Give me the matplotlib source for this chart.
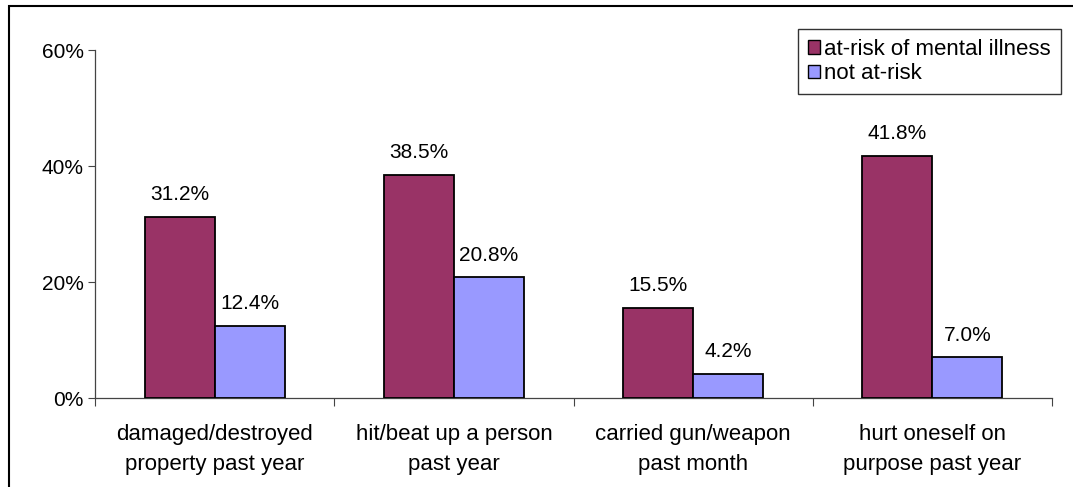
import numpy as np
import matplotlib
matplotlib.use("Agg")
import matplotlib.pyplot as plt
from matplotlib.patches import Rectangle
from matplotlib.ticker import FixedLocator, PercentFormatter

plt.rcParams['font.family'] = ['Liberation Sans', 'DejaVu Sans']

categories = ["damaged/destroyed\nproperty past year",
              "hit/beat up a person\npast year",
              "carried gun/weapon\npast month",
              "hurt oneself on\npurpose past year"]
at_risk = [31.2, 38.5, 15.5, 41.8]
not_at_risk = [12.4, 20.8, 4.2, 7.0]
series_names = ["at-risk of mental illness", "not at-risk"]
colors = ["#993366", "#9999FF"]

W, H = 1073, 487
fig = plt.figure(figsize=(W / 100, H / 100), dpi=100)
ax = fig.add_axes([95 / W, 1 - 398 / H, (1052 - 95) / W, (398 - 50) / H])

x = np.arange(len(categories))
bw = 0.293
b1 = ax.bar(x - bw / 2, at_risk, bw, color=colors[0], edgecolor="black", linewidth=1.3,
            label=series_names[0], zorder=3)
b2 = ax.bar(x + bw / 2, not_at_risk, bw, color=colors[1], edgecolor="black", linewidth=1.3,
            label=series_names[1], zorder=3)

for bars, vals in ((b1, at_risk), (b2, not_at_risk)):
    for rect, v in zip(bars, vals):
        ax.annotate(f"{v:.1f}%", (rect.get_x() + rect.get_width() / 2, v),
                    xytext=(0, 12), textcoords="offset points",
                    ha="center", va="baseline", fontsize=15)

ax.set_xlim(-0.5, len(categories) - 0.5)
ax.set_ylim(0, 60)
ax.set_yticks([0, 20, 40, 60])
ax.yaxis.set_major_formatter(PercentFormatter(decimals=0))
ax.tick_params(axis="y", length=5, width=0.8, labelsize=15, pad=3, color="#444444")

# category labels centred, tick marks on the boundaries
ax.set_xticks(x)
ax.set_xticklabels(categories, fontsize=16, linespacing=1.55)
ax.tick_params(axis="x", which="major", length=0, pad=19)
ax.xaxis.set_minor_locator(FixedLocator(np.arange(-0.5, len(categories), 1.0)))
ax.tick_params(axis="x", which="minor", length=6, width=0.8, color="#444444")

for side in ("top", "right"):
    ax.spines[side].set_visible(False)
for side in ("left", "bottom"):
    ax.spines[side].set_color("#444444")
    ax.spines[side].set_linewidth(0.9)

leg = ax.legend(loc="upper right", bbox_to_anchor=(1061 / W, 1 - 29 / H),
                bbox_transform=fig.transFigure, borderaxespad=0,
                fontsize=16, handlelength=0.55, handleheight=0.55, handletextpad=0.2,
                labelspacing=0.15, borderpad=0.45, fancybox=False, frameon=True)
leg.get_frame().set_edgecolor("black")
leg.get_frame().set_linewidth(1.0)
for h in leg.legend_handles:
    h.set_edgecolor("black")
    h.set_linewidth(1.0)

# outer chart border (left and top edges fall inside the image)
fig.patches.append(Rectangle((9 / W, -0.1), 1.2, 1 - 6 / H + 0.1, transform=fig.transFigure,
                             fill=False, edgecolor="black", linewidth=1.5))

fig.savefig("out.png", dpi=100)
